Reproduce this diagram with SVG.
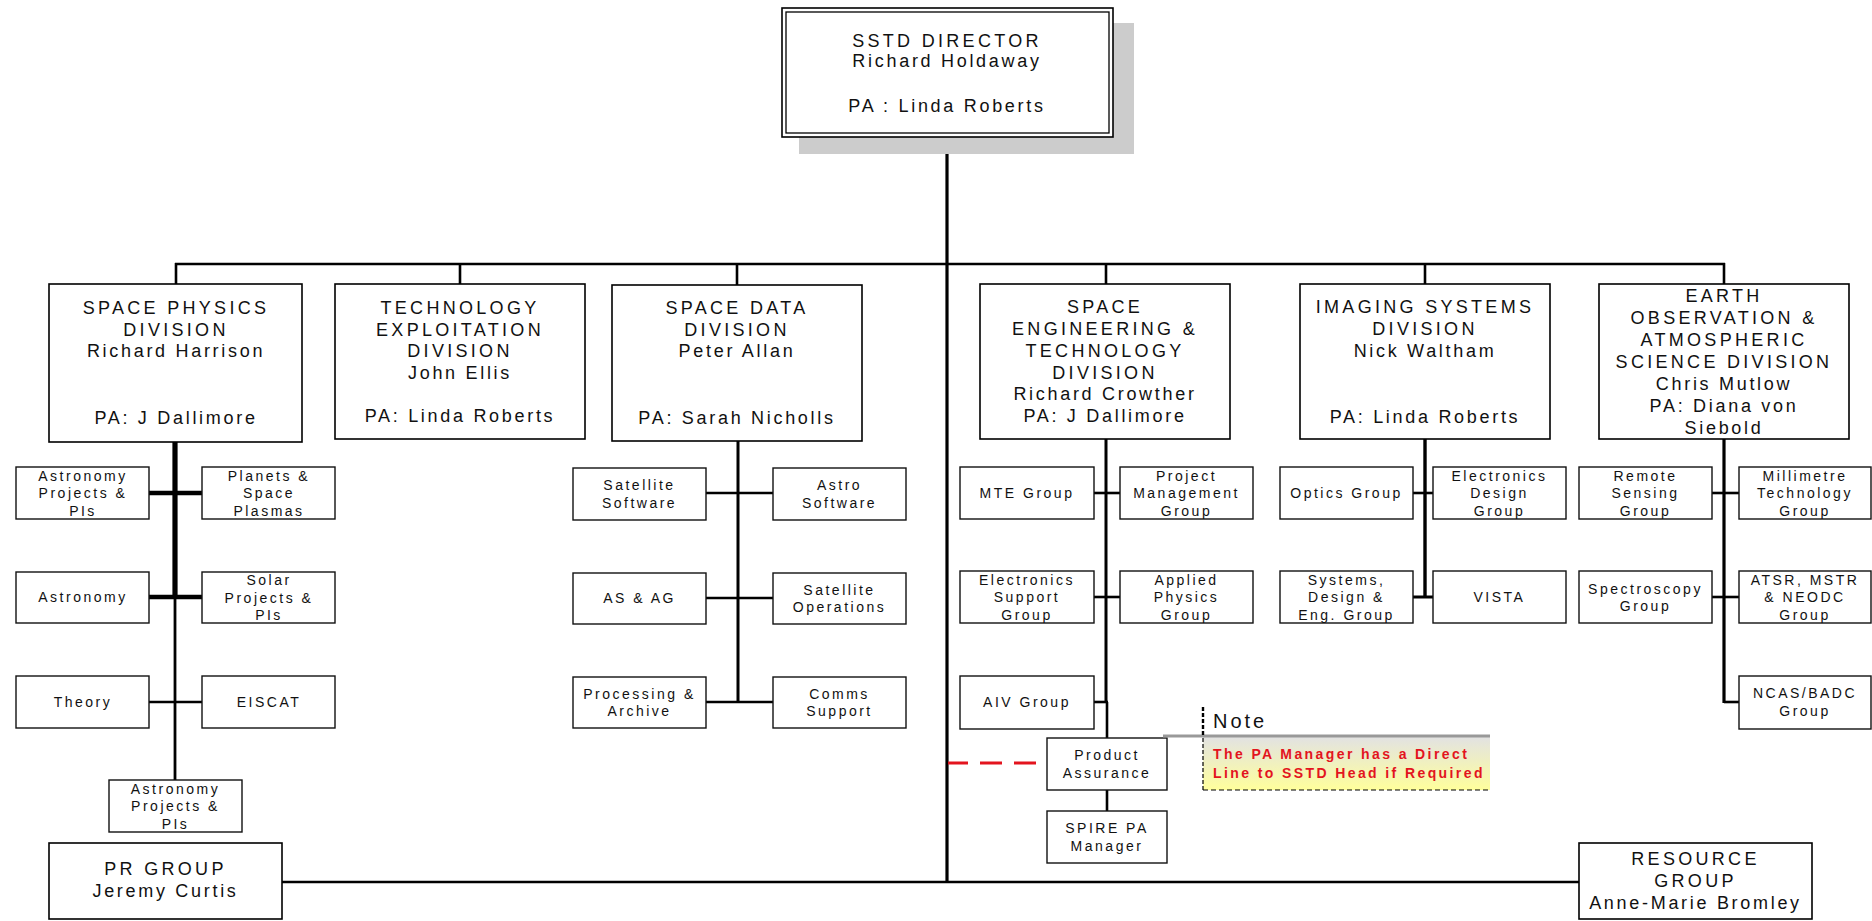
<svg xmlns="http://www.w3.org/2000/svg" width="1872" height="921" viewBox="0 0 1872 921">
<style>
.bg{fill:#fff}
.box{fill:#fff;stroke:#000;stroke-width:1.6}
.sub{fill:#fff;stroke:#111;stroke-width:1.4}
text{font-family:"Liberation Sans",Arial,sans-serif;fill:#111;text-anchor:middle}
.d{font-size:18px;letter-spacing:2.7px}
.c{letter-spacing:3.3px}
.s{font-size:14px;letter-spacing:2.5px}
.ln{stroke:#000;fill:none;stroke-linecap:butt}
.note{font-size:20px;letter-spacing:3px;text-anchor:start}
.red{font-size:14px;font-weight:bold;letter-spacing:2.4px;fill:#e3141e;text-anchor:start}
</style>
<defs>
<linearGradient id="ng" x1="0" y1="0" x2="0" y2="1">
<stop offset="0" stop-color="#e2e2e2"/>
<stop offset="1" stop-color="#ffff9c"/>
</linearGradient>
</defs>
<rect class="bg" x="0" y="0" width="1872" height="921"/>

<g id="connectors">
<line class="ln" x1="947" y1="138" x2="947" y2="883" stroke-width="3.2"/>
<line class="ln" x1="175" y1="264" x2="1725" y2="264" stroke-width="2.6"/>
<line class="ln" x1="176" y1="263" x2="176" y2="285" stroke-width="2.6"/>
<line class="ln" x1="460" y1="263" x2="460" y2="285" stroke-width="2.6"/>
<line class="ln" x1="737" y1="263" x2="737" y2="285" stroke-width="2.6"/>
<line class="ln" x1="1106" y1="263" x2="1106" y2="285" stroke-width="2.6"/>
<line class="ln" x1="1425" y1="263" x2="1425" y2="285" stroke-width="2.6"/>
<line class="ln" x1="1724" y1="263" x2="1724" y2="285" stroke-width="2.6"/>
<line class="ln" x1="282" y1="882" x2="1579" y2="882" stroke-width="2.6"/>
<!-- Space Physics -->
<line class="ln" x1="175" y1="442" x2="175" y2="598" stroke-width="5.2"/>
<line class="ln" x1="175" y1="598" x2="175" y2="780" stroke-width="2.8"/>
<line class="ln" x1="149" y1="493" x2="202" y2="493" stroke-width="4.4"/>
<line class="ln" x1="149" y1="597" x2="202" y2="597" stroke-width="4.4"/>
<line class="ln" x1="149" y1="702" x2="202" y2="702" stroke-width="2.6"/>
<!-- Space Data -->
<line class="ln" x1="738" y1="441" x2="738" y2="703" stroke-width="3"/>
<line class="ln" x1="706" y1="493" x2="773" y2="493" stroke-width="2.6"/>
<line class="ln" x1="706" y1="598" x2="773" y2="598" stroke-width="2.6"/>
<line class="ln" x1="706" y1="702" x2="773" y2="702" stroke-width="2.6"/>
<!-- Space Engineering -->
<line class="ln" x1="1106" y1="439" x2="1106" y2="702" stroke-width="3"/>
<line class="ln" x1="1107" y1="702" x2="1107" y2="738" stroke-width="2.6"/>
<line class="ln" x1="1094" y1="493" x2="1120" y2="493" stroke-width="2.6"/>
<line class="ln" x1="1094" y1="597" x2="1120" y2="597" stroke-width="2.6"/>
<line class="ln" x1="1094" y1="702" x2="1108" y2="702" stroke-width="2.6"/>
<line class="ln" x1="1107" y1="790" x2="1107" y2="811" stroke-width="2.6"/>
<!-- Imaging -->
<line class="ln" x1="1425" y1="439" x2="1425" y2="598" stroke-width="3.4"/>
<line class="ln" x1="1413" y1="493" x2="1433" y2="493" stroke-width="2.6"/>
<line class="ln" x1="1413" y1="597" x2="1433" y2="597" stroke-width="3"/>
<!-- Earth Observation -->
<line class="ln" x1="1724" y1="439" x2="1724" y2="703" stroke-width="3.2"/>
<line class="ln" x1="1712" y1="493" x2="1739" y2="493" stroke-width="2.6"/>
<line class="ln" x1="1712" y1="597" x2="1739" y2="597" stroke-width="2.6"/>
<line class="ln" x1="1724" y1="702" x2="1739" y2="702" stroke-width="2.6"/>
<!-- PA dashed -->
<line x1="1036" y1="763" x2="948" y2="763" stroke="#e3141e" stroke-width="3" stroke-dasharray="22 12"/>
</g>

<g id="director">
<rect x="799" y="23" width="335" height="131" fill="#cccccc"/>
<rect class="box" x="782" y="8" width="331" height="129"/>
<rect x="786" y="12" width="323" height="121" fill="none" stroke="#000" stroke-width="1.3"/>
<text class="d c" x="947" y="47">SSTD DIRECTOR</text>
<text class="d" x="947" y="67">Richard Holdaway</text>
<text class="d" x="947" y="112">PA : Linda Roberts</text>
</g>

<g id="space-physics">
<rect class="box" x="49" y="284" width="253" height="158"/>
<text class="d c" x="176" y="314">SPACE PHYSICS</text>
<text class="d c" x="176" y="335.5">DIVISION</text>
<text class="d" x="176" y="357">Richard Harrison</text>
<text class="d" x="176" y="424">PA: J Dallimore</text>
</g>
<g id="technology-exploitation">
<rect class="box" x="335" y="284" width="250" height="155"/>
<text class="d c" x="460" y="314">TECHNOLOGY</text>
<text class="d c" x="460" y="335.5">EXPLOITATION</text>
<text class="d c" x="460" y="357">DIVISION</text>
<text class="d" x="460" y="379">John Ellis</text>
<text class="d" x="460" y="422">PA: Linda Roberts</text>
</g>
<g id="space-data">
<rect class="box" x="612" y="285" width="250" height="156"/>
<text class="d c" x="737" y="314">SPACE DATA</text>
<text class="d c" x="737" y="335.5">DIVISION</text>
<text class="d" x="737" y="357">Peter Allan</text>
<text class="d" x="737" y="424">PA: Sarah Nicholls</text>
</g>
<g id="space-engineering">
<rect class="box" x="980" y="284" width="250" height="155"/>
<text class="d c" x="1105" y="313">SPACE</text>
<text class="d c" x="1105" y="335">ENGINEERING &amp;</text>
<text class="d c" x="1105" y="357">TECHNOLOGY</text>
<text class="d c" x="1105" y="378.5">DIVISION</text>
<text class="d" x="1105" y="400">Richard Crowther</text>
<text class="d" x="1105" y="422">PA: J Dallimore</text>
</g>
<g id="imaging-systems">
<rect class="box" x="1300" y="284" width="250" height="155"/>
<text class="d c" x="1425" y="313">IMAGING SYSTEMS</text>
<text class="d c" x="1425" y="335">DIVISION</text>
<text class="d" x="1425" y="357">Nick Waltham</text>
<text class="d" x="1425" y="423">PA: Linda Roberts</text>
</g>
<g id="earth-observation">
<rect class="box" x="1599" y="284" width="250" height="155"/>
<text class="d c" x="1724" y="302">EARTH</text>
<text class="d c" x="1724" y="324">OBSERVATION &amp;</text>
<text class="d c" x="1724" y="346">ATMOSPHERIC</text>
<text class="d c" x="1724" y="368">SCIENCE DIVISION</text>
<text class="d" x="1724" y="390">Chris Mutlow</text>
<text class="d" x="1724" y="412">PA: Diana von</text>
<text class="d" x="1724" y="434">Siebold</text>
</g>

<!-- Space Physics groups -->
<g id="sp-astro-projects-1"><rect class="sub" x="16" y="467" width="133" height="52"/>
<text class="s" x="83" y="480.5">Astronomy</text><text class="s" x="83" y="498">Projects &amp;</text><text class="s" x="83" y="515.5">PIs</text></g>
<g id="sp-planets"><rect class="sub" x="202" y="467" width="133" height="52"/>
<text class="s" x="269" y="480.5">Planets &amp;</text><text class="s" x="269" y="498">Space</text><text class="s" x="269" y="515.5">Plasmas</text></g>
<g id="sp-astronomy"><rect class="sub" x="16" y="572" width="133" height="51"/>
<text class="s" x="83" y="602">Astronomy</text></g>
<g id="sp-solar"><rect class="sub" x="202" y="572" width="133" height="51"/>
<text class="s" x="269" y="585">Solar</text><text class="s" x="269" y="602.5">Projects &amp;</text><text class="s" x="269" y="620">PIs</text></g>
<g id="sp-theory"><rect class="sub" x="16" y="676" width="133" height="52"/>
<text class="s" x="83" y="707">Theory</text></g>
<g id="sp-eiscat"><rect class="sub" x="202" y="676" width="133" height="52"/>
<text class="s" x="269" y="707">EISCAT</text></g>
<g id="sp-astro-projects-2"><rect class="sub" x="109" y="780" width="133" height="52"/>
<text class="s" x="175.5" y="793.5">Astronomy</text><text class="s" x="175.5" y="811">Projects &amp;</text><text class="s" x="175.5" y="828.5">PIs</text></g>

<!-- Space Data groups -->
<g id="sd-sat-software"><rect class="sub" x="573" y="468" width="133" height="52"/>
<text class="s" x="639.5" y="490">Satellite</text><text class="s" x="639.5" y="507.5">Software</text></g>
<g id="sd-astro-software"><rect class="sub" x="773" y="468" width="133" height="52"/>
<text class="s" x="839.5" y="490">Astro</text><text class="s" x="839.5" y="507.5">Software</text></g>
<g id="sd-asag"><rect class="sub" x="573" y="573" width="133" height="51"/>
<text class="s" x="639.5" y="603">AS &amp; AG</text></g>
<g id="sd-sat-ops"><rect class="sub" x="773" y="573" width="133" height="51"/>
<text class="s" x="839.5" y="594.5">Satellite</text><text class="s" x="839.5" y="612">Operations</text></g>
<g id="sd-processing"><rect class="sub" x="573" y="677" width="133" height="51"/>
<text class="s" x="639.5" y="698.5">Processing &amp;</text><text class="s" x="639.5" y="716">Archive</text></g>
<g id="sd-comms"><rect class="sub" x="773" y="677" width="133" height="51"/>
<text class="s" x="839.5" y="698.5">Comms</text><text class="s" x="839.5" y="716">Support</text></g>

<!-- Space Engineering groups -->
<g id="se-mte"><rect class="sub" x="960" y="467" width="134" height="52"/>
<text class="s" x="1027" y="498">MTE Group</text></g>
<g id="se-pm"><rect class="sub" x="1120" y="467" width="133" height="52"/>
<text class="s" x="1186.5" y="480.5">Project</text><text class="s" x="1186.5" y="498">Management</text><text class="s" x="1186.5" y="515.5">Group</text></g>
<g id="se-esg"><rect class="sub" x="960" y="571" width="134" height="52"/>
<text class="s" x="1027" y="584.5">Electronics</text><text class="s" x="1027" y="602">Support</text><text class="s" x="1027" y="619.5">Group</text></g>
<g id="se-apg"><rect class="sub" x="1120" y="571" width="133" height="52"/>
<text class="s" x="1186.5" y="584.5">Applied</text><text class="s" x="1186.5" y="602">Physics</text><text class="s" x="1186.5" y="619.5">Group</text></g>
<g id="se-aiv"><rect class="sub" x="960" y="676" width="134" height="53"/>
<text class="s" x="1027" y="707">AIV Group</text></g>
<g id="se-pa"><rect class="sub" x="1047" y="738" width="120" height="52"/>
<text class="s" x="1107" y="760">Product</text><text class="s" x="1107" y="777.5">Assurance</text></g>
<g id="se-spire"><rect class="sub" x="1047" y="811" width="120" height="52"/>
<text class="s" x="1107" y="833">SPIRE PA</text><text class="s" x="1107" y="850.5">Manager</text></g>

<!-- Imaging groups -->
<g id="is-optics"><rect class="sub" x="1280" y="467" width="133" height="52"/>
<text class="s" x="1346.5" y="498">Optics Group</text></g>
<g id="is-ed"><rect class="sub" x="1433" y="467" width="133" height="52"/>
<text class="s" x="1499.5" y="480.5">Electronics</text><text class="s" x="1499.5" y="498">Design</text><text class="s" x="1499.5" y="515.5">Group</text></g>
<g id="is-sde"><rect class="sub" x="1280" y="571" width="133" height="52"/>
<text class="s" x="1346.5" y="584.5">Systems,</text><text class="s" x="1346.5" y="602">Design &amp;</text><text class="s" x="1346.5" y="619.5">Eng. Group</text></g>
<g id="is-vista"><rect class="sub" x="1433" y="571" width="133" height="52"/>
<text class="s" x="1499.5" y="602">VISTA</text></g>

<!-- Earth Observation groups -->
<g id="eo-remote"><rect class="sub" x="1579" y="467" width="133" height="52"/>
<text class="s" x="1645.5" y="480.5">Remote</text><text class="s" x="1645.5" y="498">Sensing</text><text class="s" x="1645.5" y="515.5">Group</text></g>
<g id="eo-mm"><rect class="sub" x="1739" y="467" width="132" height="52"/>
<text class="s" x="1805" y="480.5">Millimetre</text><text class="s" x="1805" y="498">Technology</text><text class="s" x="1805" y="515.5">Group</text></g>
<g id="eo-spectro"><rect class="sub" x="1579" y="571" width="133" height="52"/>
<text class="s" x="1645.5" y="593.5">Spectroscopy</text><text class="s" x="1645.5" y="611">Group</text></g>
<g id="eo-atsr"><rect class="sub" x="1739" y="571" width="132" height="52"/>
<text class="s" x="1805" y="584.5">ATSR, MSTR</text><text class="s" x="1805" y="602">&amp; NEODC</text><text class="s" x="1805" y="619.5">Group</text></g>
<g id="eo-ncas"><rect class="sub" x="1739" y="676" width="132" height="53"/>
<text class="s" x="1805" y="698">NCAS/BADC</text><text class="s" x="1805" y="715.5">Group</text></g>

<!-- Bottom groups -->
<g id="pr-group"><rect class="box" x="49" y="843" width="233" height="76"/>
<text class="d c" x="165.5" y="875">PR GROUP</text><text class="d" x="165.5" y="897">Jeremy Curtis</text></g>
<g id="resource-group"><rect class="box" x="1579" y="843" width="233" height="76"/>
<text class="d c" x="1695.5" y="865">RESOURCE</text><text class="d c" x="1695.5" y="887">GROUP</text><text class="d" x="1695.5" y="909">Anne-Marie Bromley</text></g>

<!-- Note -->
<g id="note">
<rect x="1203" y="737" width="287" height="53" fill="url(#ng)"/>
<line x1="1163" y1="736" x2="1490" y2="736" stroke="#999" stroke-width="3.2"/>
<line x1="1203" y1="707" x2="1203" y2="735" stroke="#000" stroke-width="2.4" stroke-dasharray="4 2"/>
<line x1="1203" y1="738" x2="1203" y2="790" stroke="#000" stroke-width="1.2" stroke-dasharray="4 2"/>
<line x1="1203" y1="790" x2="1490" y2="790" stroke="#000" stroke-width="1.2" stroke-dasharray="5 3"/>
<text class="note" x="1213" y="728">Note</text>
<text class="red" x="1213" y="759">The PA Manager has a Direct</text>
<text class="red" x="1213" y="778">Line to SSTD Head if Required</text>
</g>
</svg>
